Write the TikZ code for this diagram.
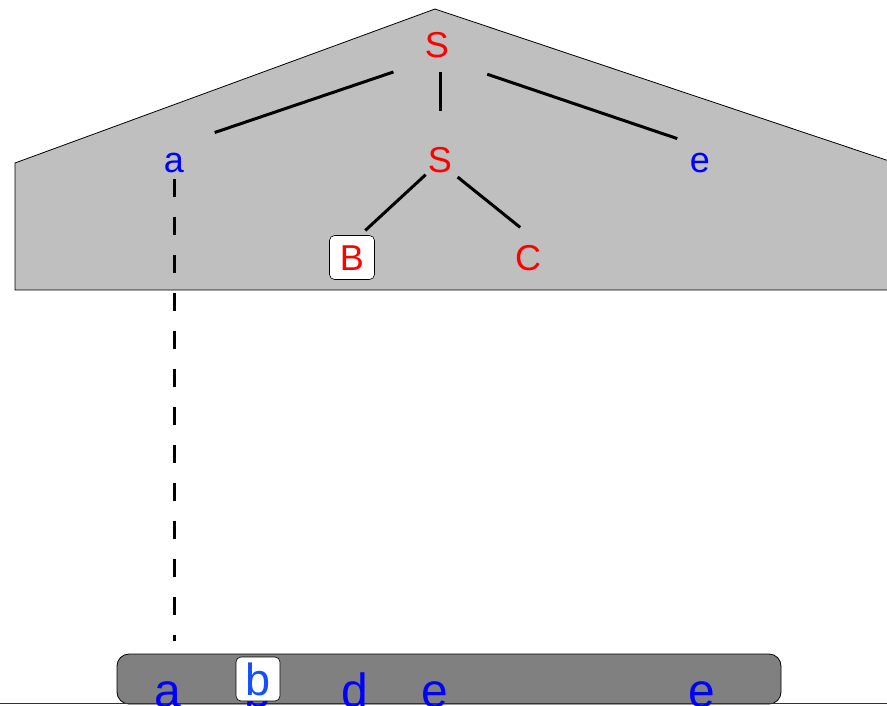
\documentclass[tikz,border=0pt]{standalone}
\usepackage{fontspec}
\setmainfont{Liberation Sans}
\usetikzlibrary{trees}

\definecolor{ntred}{RGB}{255,0,0}
\definecolor{tmblue}{RGB}{0,0,255}
\definecolor{hlblue}{RGB}{20,80,255}

\begin{document}
\begin{tikzpicture}[x=1pt, y=-1pt,
    nt/.style={text=ntred, font=\fontsize{36}{40}\selectfont, inner sep=0pt, text height=26pt, text depth=0pt},
    tm/.style={text=tmblue, font=\fontsize{36}{40}\selectfont, inner sep=0pt, text height=26pt, text depth=0pt},
    leaf/.style={text=tmblue, font=\fontsize{48}{54}\selectfont, inner sep=0pt, anchor=base},
    hbox/.style={draw, fill=white, rounded corners=5pt, minimum width=45pt, minimum height=44pt, line width=0.6pt},
    branch/.style={line width=3pt},
    edge from parent/.style={draw=none}]
    \useasboundingbox (0,0) rectangle (887,705);
    \clip (0,0) rectangle (887,705);

    % shaded upper part of the derivation
    \filldraw[fill=black!25, draw=black, line width=0.8pt]
        (15,290) -- (15,163) -- (435,9) -- (910,168) -- (910,290) -- cycle;

    \tikzstyle{level 1}=[sibling distance=263pt, level distance=115.5pt]
    \tikzstyle{level 2}=[sibling distance=176pt, level distance=98pt]
    \node[nt] (s0) at (437,44) {S}
        child{node[tm] (a1) {a}}
        child[xshift=3pt]{
            node[nt] (s1) {S}
            child{node[nt, hbox] (b1) {B}}
            child{node[nt] (c1) {C}}
        }
        child{node[tm] (e1) {e}}
    ;
    \draw[branch, shorten <=46pt, shorten >=43pt] (s0.south) -- (a1.north);
    \draw[branch, shorten <=15pt, shorten >=35pt] (s1.north |- s0.south) -- (s1.north);
    \draw[branch, shorten <=53pt, shorten >=24pt] (s0.south) -- (e1.north);
    \draw[branch, shorten <=3pt, shorten >=7pt] (s1.south west) -- (b1.70);
    \draw[branch, shorten <=7pt, shorten >=27pt] (s1.south east) -- (c1.north east);

    % sentential form at the bottom
    \filldraw[fill=black!50, draw=black, line width=0.8pt, rounded corners=12pt]
        (117,654) rectangle (781,704);
    \draw[line width=1.2pt, black!80] (0,703.5) -- (887,703.5);
    \node[leaf] (a2) at (168,707) {a};
    \node[leaf] (b2) at (258,707) {b};
    \node[leaf] (d2) at (355,707) {d};
    \node[leaf] (e2) at (435,707) {e};
    \node[leaf] (e3) at (702,707) {e};
    \node[hbox, text=hlblue, font=\fontsize{45}{50}\selectfont, inner sep=0pt, text height=33pt, text depth=0pt,
        minimum width=44pt] (b3) at (258,679) {b};

    \draw[line width=3pt, dash pattern=on 18pt off 20pt, shorten <=6pt, shorten >=40pt]
        (a1.south) -- (a1.south |- a2.north);
\end{tikzpicture}
\end{document}
